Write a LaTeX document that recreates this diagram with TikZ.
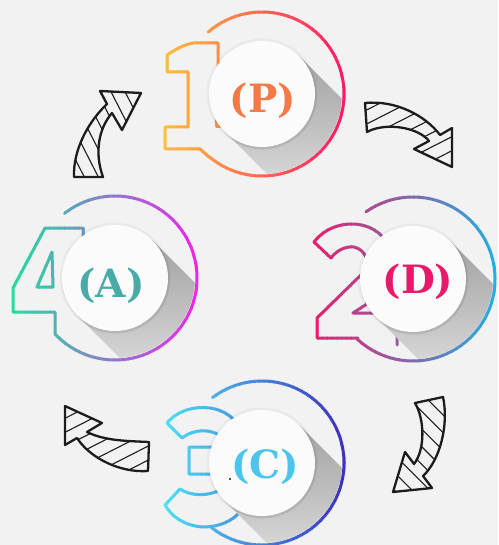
\documentclass[tikz,border=0pt]{standalone}
\usepackage{fontspec}
\newfontfamily\lblfont{DejaVu Serif}
\usetikzlibrary{calc}
\definecolor{bg}{HTML}{F2F2F2}
\definecolor{Pleft}{HTML}{FFC43A}
\definecolor{Pright}{HTML}{FF1468}
\definecolor{Dleft}{HTML}{EF1A6A}
\definecolor{Dright}{HTML}{1EB2E4}
\definecolor{Aleft}{HTML}{18E59A}
\definecolor{Aright}{HTML}{F71DF3}
\definecolor{Cleft}{HTML}{4DE6F8}
\definecolor{Cright}{HTML}{3D2BBD}
\definecolor{txtP}{HTML}{F37A46}
\definecolor{txtD}{HTML}{E8186B}
\definecolor{txtA}{HTML}{48ABA8}
\definecolor{txtC}{HTML}{4CC5ED}
\definecolor{arrowink}{HTML}{1C1C1C}
\definecolor{shadowc}{HTML}{A2A2A2}
\definecolor{discwhite}{HTML}{FBFBFB}
\tikzset{
  ringline/.style={line width=3pt, line cap=round, line join=round},
  arrowshape/.style={draw=arrowink, line width=2.3pt, line join=round},
  hatchline/.style={draw=arrowink, line width=1.1pt},
  whitedisc/.style={circle, fill=discwhite, minimum size=106pt, inner sep=0pt},
  lbl/.style={font=\lblfont\bfseries\fontsize{39}{41}\selectfont, inner sep=0pt},
}
\newcommand\GradDraw[4]{%
  \foreach \i in {0,...,39}{%
    \pgfmathsetmacro\xa{#1+(#2-#1)*\i/40}%
    \pgfmathsetmacro\xb{#1+(#2-#1)*(\i+1)/40+0.7}%
    \pgfmathtruncatemacro\pc{100*(\i+0.5)/40}%
    \colorlet{strokecol}{#4!\pc!#3}%
    \begin{scope}
      \clip (\xa,-20) rectangle (\xb,580);
      \begin{scope}[color=strokecol]\modpaths\end{scope}
    \end{scope}
  }%
}
\newcommand\LongShadow[1]{%
  \begin{scope}
    \clip (#1) circle[radius=80pt];
    \shade[shading angle=45, top color=shadowc, bottom color=bg]
      ($(#1)+(-37.5,37.5)$) -- ($(#1)+(37.5,-37.5)$) -- ++(110,110)
      -- ($(#1)+(72.5,147.5)$) -- cycle;
  \end{scope}}
\newcommand\DiscHalo[1]{%
  \fill[black,opacity=.035] (#1) circle[radius=55.5pt];
  \fill[black,opacity=.06] ($(#1)+(0.8,1.4)$) circle[radius=54pt];}
\newcommand\HatchArrow[3]{%
  \begin{scope}
    \clip #1;
    \begin{scope}[shift={#2}, rotate=#3]
      \foreach \k in {-7,...,7} \draw[hatchline] (-90,\k*12.5) -- (90,\k*12.5);
    \end{scope}
  \end{scope}
  \draw[arrowshape] #1;
}
\begin{document}
\begin{tikzpicture}[x=1pt,y=-1pt]
\fill[bg] (0,0) rectangle (498,545);
\useasboundingbox (0,0) rectangle (498,545);

% ---------- hatched arrows ----------
\HatchArrow{(74,177) .. controls (73,150) and (88,122) .. (107,104) -- (100,91) -- (141,93) -- (122,130) -- (112,113) .. controls (99,128) and (94,152) .. (103,177) -- cycle}{(105,135)}{-63}
\HatchArrow{(365,103) .. controls (395,100) and (425,115) .. (440,135) -- (452,128) -- (452,167) -- (414,149) -- (429,141) .. controls (418,127) and (385,122) .. (367,132) -- cycle}{(410,130)}{27}
\HatchArrow{(443,397) .. controls (449,425) and (440,460) .. (423,476) -- (432,488) -- (393,492) -- (405,452) -- (414,464) .. controls (425,450) and (425,420) .. (415,403) -- cycle}{(425,450)}{-45}
\HatchArrow{(149,442) .. controls (128,441) and (105,441) .. (87,432) -- (102,423) -- (65,406) -- (65,445) -- (77,438) .. controls (90,458) and (120,473) .. (148,471) -- cycle}{(105,440)}{27}

% ---------- module P ----------
\coordinate (cP) at (262,94);
\def\modpaths{%
  \draw[ringline] ([shift={(262,94)}]229:82) arc[start angle=229, end angle=490, radius=82];
  \draw[ringline] (209,157) -- (200,149) -- (165,149) -- (165,127) -- (188,127) -- (188,72) -- (167,72) -- (167,55) .. controls (176,49) and (185,44) .. (194,43) -- (218,43) -- (218,70);
  \draw[ringline] (216,110) -- (216,127) -- (226,127);
}
\GradDraw{158}{350}{Pleft}{Pright}
\LongShadow{cP}
\DiscHalo{cP}
\node[whitedisc] (P) at (cP) {};
\node[lbl,text=txtP] (Plabel) at (263,101) {(P)};

% ---------- module D ----------
\coordinate (cD) at (413,279);
\def\modpaths{%
  \draw[ringline] ([shift={(413,279)}]235:82) arc[start angle=235, end angle=493, radius=82];
  \draw[ringline] (358,338) -- (317,338) -- (317,318) -- (364,272) .. controls (370,262) and (366,250) .. (354,247) .. controls (345,246) and (336,251) .. (331,258) -- (314,242) .. controls (325,228) and (340,224) .. (352,224) .. controls (368,224) and (382,232) .. (388,245) -- (395,270) -- (370,302) -- (353,313) -- (397,313) -- (397,345);
}
\GradDraw{308}{500}{Dleft}{Dright}
\LongShadow{cD}
\DiscHalo{cD}
\node[whitedisc] (D) at (cD) {};
\node[lbl,text=txtD] (Dlabel) at (418,282) {(D)};

% ---------- module A ----------
\coordinate (cA) at (115,278);
\def\modpaths{%
  \draw[ringline] ([shift={(115,278)}]232:82) arc[start angle=232, end angle=497, radius=82];
  \draw[ringline] (55,334) -- (55,312) -- (13,312) -- (13,288) -- (45,228) -- (83,228) -- (83,245);
  \draw[ringline] (52,252) -- (37,287) -- (53,287) -- cycle;
}
\GradDraw{5}{202}{Aleft}{Aright}
\LongShadow{cA}
\DiscHalo{cA}
\node[whitedisc] (A) at (cA) {};
\node[lbl,text=txtA] (Alabel) at (111,286) {(A)};

% ---------- module C ----------
\coordinate (cC) at (262,463);
\def\modpaths{%
  \draw[ringline] ([shift={(262,463)}]233:82) arc[start angle=233, end angle=488, radius=82];
  \draw[ringline] (167,423) .. controls (178,410) and (195,406) .. (210,408) .. controls (225,410) and (240,420) .. (245,440) -- (240,455) -- (250,480) .. controls (252,505) and (235,526) .. (205,527) .. controls (188,527) and (172,518) .. (165,505) -- (180,489) .. controls (190,496) and (208,497) .. (222,489) -- (235,480) -- (213,474) -- (189,474) -- (189,447) -- (213,447) -- (235,440) -- (222,437) .. controls (212,429) and (195,428) .. (182,438) -- cycle;
}
\GradDraw{158}{350}{Cleft}{Cright}
\LongShadow{cC}
\DiscHalo{cC}
\node[whitedisc] (C) at (cC) {};
\node[lbl,text=txtC] (Clabel) at (265,467) {(C)};
\fill[black!70] (229,478) rectangle (230.5,479.5);
\end{tikzpicture}
\end{document}
